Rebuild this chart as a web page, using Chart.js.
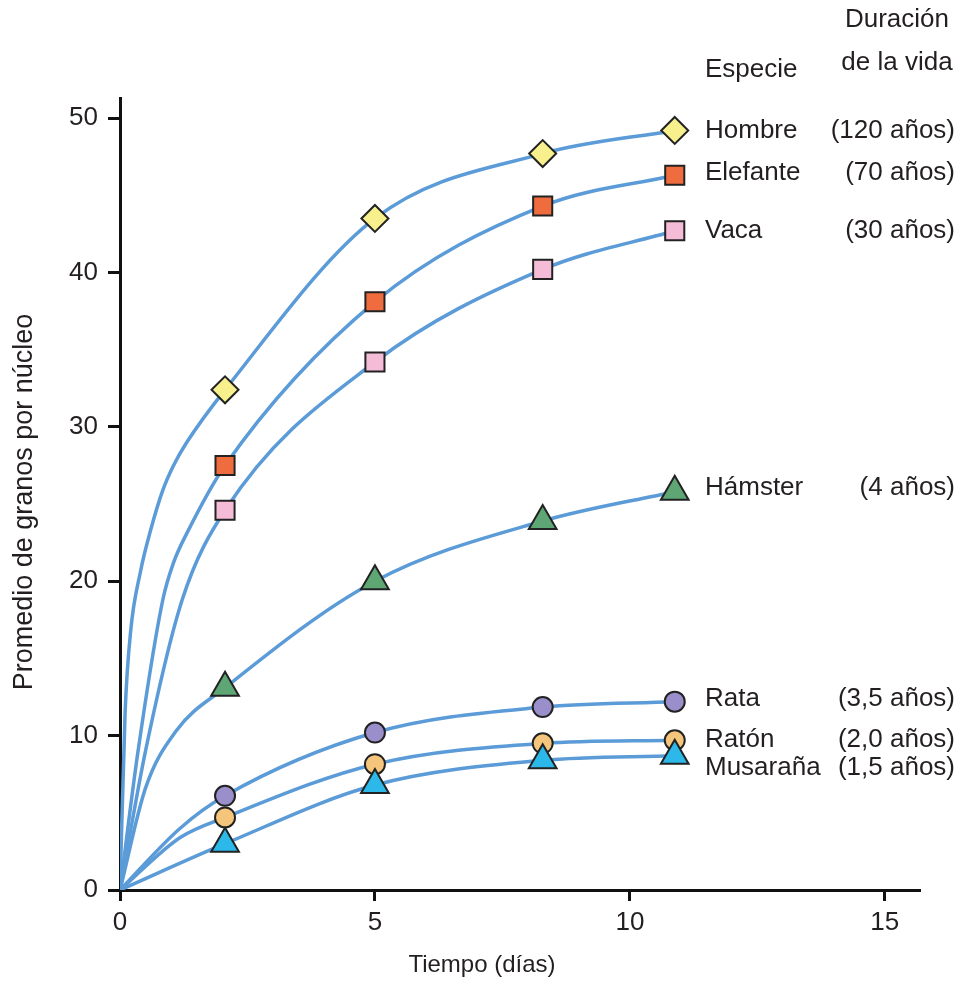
<!DOCTYPE html>
<html>
<head>
<meta charset="utf-8">
<script src="https://cdn.jsdelivr.net/npm/chart.js@4"></script>
<style>
  body { margin: 0; background: #fff; }
  canvas { display: block; }
</style>
</head>
<body>
<canvas id="grafico" width="960" height="983"></canvas>
<script>
// granos por núcleo vs tiempo, por especie
const especies = ['Hombre', 'Elefante', 'Vaca', 'Hámster', 'Rata', 'Ratón', 'Musaraña']
const duracion = ['(120 años)', '(70 años)', '(30 años)', '(4 años)', '(3,5 años)', '(2,0 años)', '(1,5 años)']

const tiempo = [2.06, 5, 8.29, 10.88]

const hombre = [32.4, 43.5, 47.7, 49.2]
const elefante = [27.5, 38.1, 44.3, 46.3]
const vaca = [24.6, 34.2, 40.2, 42.7]
const hamster = [13.1, 20.0, 23.9, 25.8]
const rata = [6.1, 10.2, 11.85, 12.2]
const raton = [4.7, 8.15, 9.5, 9.7]
const musarana = [3.0, 6.8, 8.4, 8.7]

// tramo inicial de cada curva, desde el origen hasta el primer punto
const inicioX = [
    [0, 0.1, 0.21, 0.4, 0.6, 0.84, 1.05, 1.31],
    [0, 0.35, 0.84, 1.05, 1.31],
    [0, 0.5, 1.22],
    [0, 0.5, 1.1],
    [0, 1.18],
    [0, 1.18],
    [0]
]
const inicioY = [
    [0, 11.5, 16.8, 20.6, 23.3, 25.9, 27.5, 29.0],
    [0, 8.9, 18.8, 21.2, 23.1],
    [0, 9.0, 18.8],
    [0, 6.6, 10.3],
    [0, 4.0],
    [0, 3.4],
    [0]
]

const ticksX = [0, 5, 10, 15]
const ticksY = [0, 10, 20, 30, 40, 50]

const series = [hombre, elefante, vaca, hamster, rata, raton, musarana]
const rellenos = ['#f7f08c', '#ef6c3e', '#f4bcd6', '#5ea674', '#9a8fcb', '#f5c57c', '#2cb8e8']
const formas = ['rectRot', 'rect', 'rect', 'triangle', 'circle', 'circle', 'triangle']
const radios = [13.5, 13.5, 13.5, 16, 10, 10, 16]
const ajusteTexto = [0, -2, 0, -4, -3, 0, 12]

const texto = '#231f20'
const fuente = '"Liberation Sans", Arial, sans-serif'

const curvas = series.map((s, i) => ({
    type: 'line',
    data: inicioX[i].map((v, j) => ({ x: v, y: inicioY[i][j] }))
        .concat(tiempo.map((t, j) => ({ x: t, y: s[j] }))),
    borderColor: '#5b9bd8',
    borderWidth: 3.5,
    pointRadius: 0,
    cubicInterpolationMode: 'monotone',
    fill: false,
    order: 20
}))

const marcas = series.map((s, i) => ({
    type: 'scatter',
    data: tiempo.map((t, j) => ({ x: t, y: s[j] })),
    backgroundColor: rellenos[i],
    borderColor: '#222',
    borderWidth: 2,
    pointStyle: formas[i],
    pointRadius: radios[i],
    pointHoverRadius: radios[i],
    order: 10 - i
}))

const etiquetas = {
    id: 'etiquetas',
    afterDraw(chart) {
        const ctx = chart.ctx
        const y = chart.scales.y
        ctx.save()
        ctx.fillStyle = texto
        ctx.font = '26px ' + fuente
        ctx.textBaseline = 'middle'

        ctx.textAlign = 'left'
        ctx.fillText('Especie', 705, 70)
        ctx.textAlign = 'center'
        ctx.fillText('Duración', 897, 20)
        ctx.fillText('de la vida', 897, 63)

        especies.forEach((nombre, i) => {
            const py = y.getPixelForValue(series[i][3]) + ajusteTexto[i]
            ctx.textAlign = 'left'
            ctx.fillText(nombre, 705, py)
            ctx.textAlign = 'right'
            ctx.fillText(duracion[i], 955, py)
        })

        // títulos de los ejes
        ctx.font = '24px ' + fuente
        ctx.textAlign = 'center'
        ctx.fillText('Tiempo (días)', 482, 965)

        ctx.font = '27px ' + fuente
        ctx.translate(25, 502)
        ctx.rotate(-Math.PI / 2)
        ctx.fillText('Promedio de granos por núcleo', 0, 0)
        ctx.restore()
    }
}

new Chart(document.getElementById('grafico'), {
    data: { datasets: curvas.concat(marcas) },
    options: {
        responsive: false,
        animation: false,
        layout: { padding: { top: 98, right: 40, left: 0, bottom: 0 } },
        plugins: { legend: { display: false }, tooltip: { enabled: false } },
        scales: {
            x: {
                type: 'linear',
                min: 0,
                max: 15.69,
                afterBuildTicks: (eje) => { eje.ticks = ticksX.map(v => ({ value: v })) },
                afterFit: (eje) => { eje.height = 93 },
                border: { color: '#111', width: 3 },
                grid: { drawOnChartArea: false, drawTicks: true, tickLength: 11, tickColor: '#111', tickWidth: 3 },
                ticks: { color: texto, font: { family: fuente, size: 26 }, padding: 6, maxRotation: 0 }
            },
            y: {
                type: 'linear',
                min: 0,
                max: 51.3,
                afterBuildTicks: (eje) => { eje.ticks = ticksY.map(v => ({ value: v })) },
                afterFit: (eje) => { eje.width = 120 },
                border: { color: '#111', width: 3 },
                grid: { drawOnChartArea: false, drawTicks: true, tickLength: 12, tickColor: '#111', tickWidth: 3 },
                ticks: { color: texto, font: { family: fuente, size: 26 }, padding: 10 }
            }
        }
    },
    plugins: [etiquetas]
})
</script>
</body>
</html>
